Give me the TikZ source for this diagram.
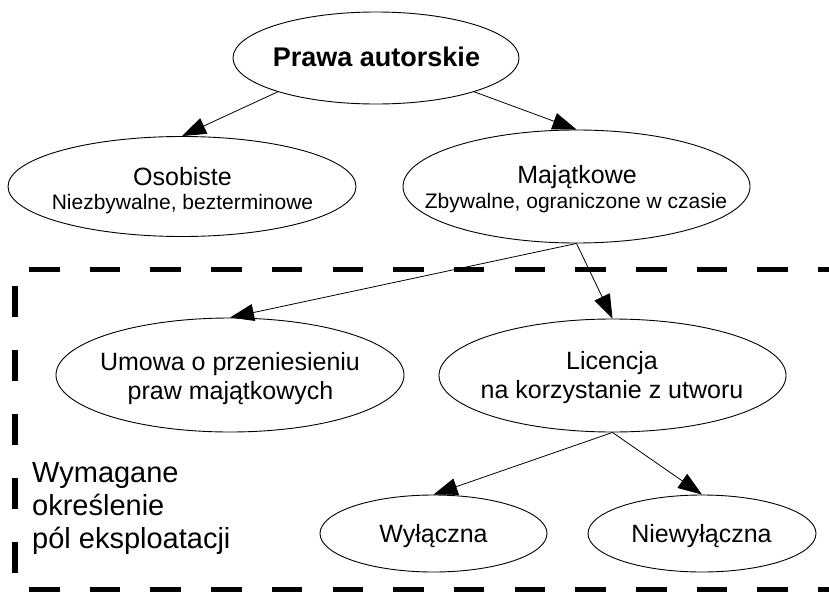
\documentclass[tikz,border=0pt]{standalone}
\usepackage{fontspec}
\setmainfont{Liberation Sans}
\usetikzlibrary{shapes.geometric,arrows.meta}
\begin{document}
\begin{tikzpicture}[x=1pt,y=-1pt,
  ell/.style={ellipse,draw,line width=0.9pt,fill=white,inner sep=0pt},
  lbl/.style={anchor=base,inner sep=0pt,font=\fontsize{25}{29}\selectfont},
  sublbl/.style={anchor=base,inner sep=0pt,font=\fontsize{21}{24}\selectfont},
  side/.style={anchor=base west,inner sep=0pt,font=\fontsize{29}{33}\selectfont},
  conn/.style={line width=0.8pt,-{Triangle[length=24pt,width=17pt]}},
  dashh/.style={line width=5.5pt,dash pattern=on 30.5pt off 30.2pt},
  dashv/.style={line width=6pt,dash pattern=on 31pt off 33pt}]
\clip (0,0) rectangle (829,591);
\fill[white] (0,0) rectangle (829,591);

% dashed frame
\draw[dashh] (29,269.5) -- (860,269.5);
\draw[dashh] (29,589.5) -- (860,589.5);
\draw[dashv] (15,286) -- (15,580);

% ellipses
\node[ell,minimum width=286pt,minimum height=92pt] (prawa) at (376,58) {};
\node[ell,minimum width=348pt,minimum height=100pt] (oso) at (182,186.5) {};
\node[ell,minimum width=347pt,minimum height=113pt] (maj) at (576.5,186.5) {};
\node[ell,minimum width=348pt,minimum height=114pt] (umowa) at (230,375) {};
\node[ell,minimum width=347pt,minimum height=113pt] (lic) at (612.5,375.5) {};
\node[ell,minimum width=227pt,minimum height=77pt] (wyl) at (433.5,533.5) {};
\node[ell,minimum width=228pt,minimum height=77pt] (niew) at (702,533.5) {};

% labels
\node[anchor=base,inner sep=0pt,font=\fontsize{27}{30}\selectfont\bfseries] (prawaT) at (376.5,67) {Prawa autorskie};
\node[lbl] (osoT) at (182.5,185) {Osobiste};
\node[sublbl] (osoS) at (182.5,209) {Niezbywalne, bezterminowe};
\node[lbl] (majT) at (577,183) {Majątkowe};
\node[sublbl] (majS) at (576,208) {Zbywalne, ograniczone w czasie};
\node[lbl] (umowaT) at (230,370) {Umowa o przeniesieniu};
\node[lbl] (umowaS) at (230.5,399) {praw majątkowych};
\node[lbl] (licT) at (612,369) {Licencja};
\node[lbl] (licS) at (612,398) {na korzystanie z utworu};
\node[lbl] (wylT) at (433.5,542) {Wyłączna};
\node[lbl] (niewT) at (701.5,542) {Niewyłączna};
\node[side] (wym1) at (32,482) {Wymagane};
\node[side] (wym2) at (32,515) {określenie};
\node[side] (wym3) at (32,548) {pól eksploatacji};

% connectors
\draw[conn] (prawa.199) -- (oso.north);
\draw[conn] (prawa.341.6) -- (maj.north);
\draw[conn] (maj.south) -- (umowa.north);
\draw[conn] (maj.south) -- (lic.north);
\draw[conn] (lic.south) -- (wyl.north);
\draw[conn] (lic.south) -- (niew.north);
\end{tikzpicture}
\end{document}
